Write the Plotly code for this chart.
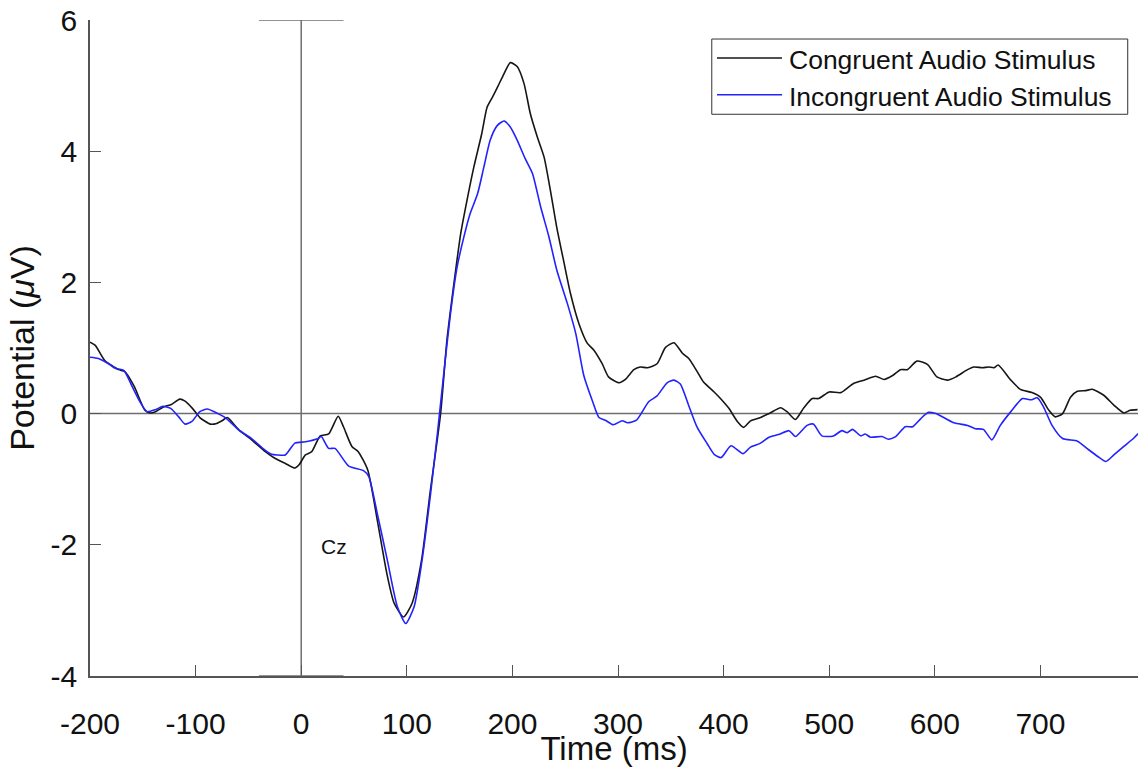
import plotly.graph_objects as go

# ---- data ----
t_congruent = [-200, -195, -186, -173, -167, -158, -148, -143, -138, -129, -123, -115, -110, -103, -96, -86, -80, -75, -70,
               -59, -47, -34, -25, -15, -6, -2, 4, 10, 18, 26, 35, 40, 48, 54, 63, 72, 81, 88, 97, 105, 114, 122, 132,
               138, 145, 151, 157, 163.5, 171, 176, 181, 186, 192, 198, 204.5, 211, 217, 223.5, 230, 236, 242, 249, 255,
               263, 271, 277, 285, 291, 301, 307, 315, 321, 328, 337, 345, 353, 361, 367, 375, 381, 391, 397, 405, 413,
               419, 425.5, 435, 444, 454, 460, 468, 476, 484, 490, 500, 511, 523, 533, 544, 552, 560, 567.5, 574, 583,
               593, 602, 612, 620, 631, 637, 645, 651, 656, 660, 672, 681, 692, 700, 708, 714, 721, 728.5, 735, 743,
               749, 760, 769.5, 779, 785, 792]
v_congruent = [1.09, 1.04, 0.81, 0.67, 0.64, 0.41, 0.05, 0.01, 0.03, 0.11, 0.14, 0.22, 0.19, 0.08, -0.06, -0.16, -0.15,
               -0.11, -0.06, -0.25, -0.40, -0.58, -0.68, -0.76, -0.83, -0.78, -0.63, -0.58, -0.34, -0.31, -0.04, -0.20,
               -0.50, -0.58, -0.86, -1.62, -2.43, -2.89, -3.10, -2.89, -2.23, -1.21, 0.0,
               1.12, 2.03, 2.74, 3.25, 3.76, 4.27, 4.67, 4.82, 4.98, 5.18, 5.35, 5.29, 5.03, 4.57, 4.22, 3.91, 3.40, 2.84,
               2.29, 1.83, 1.37, 1.07, 0.97, 0.76, 0.56, 0.47, 0.52, 0.67, 0.71, 0.70, 0.76, 1.01, 1.08, 0.92, 0.84,
               0.64, 0.48, 0.33, 0.23, 0.08, -0.12, -0.21, -0.11, -0.06, 0.01, 0.09, 0.03, -0.09, 0.09, 0.23, 0.23,
               0.33, 0.32, 0.46, 0.51, 0.57, 0.52, 0.58, 0.67, 0.67, 0.80, 0.75, 0.56, 0.51, 0.56, 0.67, 0.71, 0.70,
               0.71, 0.70, 0.74, 0.51, 0.37, 0.32, 0.25, 0.05, -0.05, 0.0, 0.25, 0.34, 0.35, 0.37, 0.28, 0.13, 0.01,
               0.05, 0.06]

t_incongruent = [-200, -192, -182.5, -176, -168, -160, -152, -146, -138, -131, -123.6, -116, -110, -103.5, -96, -89,
                 -80, -72, -59, -47, -34, -28, -23, -15, -6, 4, 16, 19, 26, 32, 45, 59, 64, 72, 81.5, 91, 99, 107,
                 114.5, 122.6, 129, 135, 141.4, 147.7, 154, 160, 167, 173, 179, 185.6, 192, 198, 204.5, 212, 219,
                 226.6, 234.5, 242, 252, 260, 267.6, 275.6, 282, 288, 295.5, 304, 309, 317.5, 329, 337, 346.5, 353,
                 359, 367, 375, 384.5, 391, 397.7, 407, 418.5, 425.5, 435, 443, 452, 462, 468, 479, 485, 493, 504,
                 512, 517, 522, 530, 534, 539, 550, 556, 563, 572, 579, 586.5, 594, 601, 605, 618, 631, 638.5, 646,
                 654, 662, 672, 683, 691, 697, 703, 711, 721, 735, 744, 754, 762, 769.5, 779, 788, 793]
v_incongruent = [0.86, 0.84, 0.76, 0.69, 0.66, 0.41, 0.16, 0.03, 0.06, 0.11, 0.08, -0.05, -0.16, -0.12, 0.03, 0.07,
                 0.01, -0.06, -0.25, -0.38, -0.56, -0.62, -0.63, -0.63, -0.45, -0.43, -0.38, -0.35, -0.53, -0.53,
                 -0.80, -0.87, -0.96, -1.52, -2.23, -2.94, -3.20, -2.94, -2.23, -1.21, -0.30, 0.61, 1.53, 2.24, 2.69,
                 3.05, 3.35, 3.76, 4.17, 4.39, 4.46, 4.37, 4.17, 3.89, 3.66, 3.16, 2.70, 2.19, 1.68, 1.22, 0.58, 0.20,
                 -0.06, -0.10, -0.17, -0.11, -0.14, -0.10, 0.18, 0.27, 0.47, 0.51, 0.45, 0.12, -0.21, -0.46, -0.62,
                 -0.67, -0.49, -0.61, -0.51, -0.45, -0.36, -0.32, -0.26, -0.35, -0.18, -0.16, -0.34, -0.34, -0.26,
                 -0.29, -0.24, -0.34, -0.31, -0.36, -0.35, -0.39, -0.35, -0.20, -0.20, -0.08, 0.02, 0.0, -0.03, -0.14,
                 -0.18, -0.23, -0.24, -0.40, -0.18, 0.03, 0.23, 0.21, 0.24, 0.10, -0.18, -0.38, -0.42, -0.53, -0.65,
                 -0.73, -0.63, -0.50, -0.38, -0.30]

series_names = ["Congruent Audio Stimulus", "Incongruent Audio Stimulus"]
series_colors = ["#161616", "#2222ff"]

x_ticks = [-200, -100, 0, 100, 200, 300, 400, 500, 600, 700]
x_tick_labels = ["-200", "-100", "0", "100", "200", "300", "400", "500", "600", "700"]
y_ticks = [-4, -2, 0, 2, 4, 6]
y_tick_labels = ["-4", "-2", "0", "2", "4", "6"]
x_range = [-200, 792.4]
y_range = [-4, 6]
stim_onset = 0
marker_half_width = 40
electrode_label = "Cz"
electrode_pos = (31, -2.02)

FONT = "Liberation Sans, Arial, Helvetica, sans-serif"
AXIS_GRAY = "#555555"
GUIDE_GRAY = "#6e6e6e"
TEXT = "#111111"

fig = go.Figure()
for t, v, name, col in [(t_congruent, v_congruent, series_names[0], series_colors[0]),
                        (t_incongruent, v_incongruent, series_names[1], series_colors[1])]:
    fig.add_trace(go.Scatter(x=t, y=v, mode="lines", name=name, showlegend=False,
                             line=dict(color=col, width=1.6, shape="spline", smoothing=0.6)))

# guide lines: baseline and stimulus-onset marker with caps
shapes = [
    dict(type="line", xref="x", yref="y", x0=x_range[0], x1=x_range[1], y0=0, y1=0,
         line=dict(color=GUIDE_GRAY, width=1.5), layer="below"),
    dict(type="line", xref="x", yref="y", x0=stim_onset, x1=stim_onset, y0=y_range[0], y1=y_range[1],
         line=dict(color=GUIDE_GRAY, width=1.5), layer="below"),
    dict(type="line", xref="x", yref="y", x0=stim_onset - marker_half_width, x1=stim_onset + marker_half_width,
         y0=y_range[1], y1=y_range[1], line=dict(color=GUIDE_GRAY, width=1.5)),
    dict(type="line", xref="x", yref="y", x0=stim_onset - marker_half_width, x1=stim_onset + marker_half_width,
         y0=y_range[0], y1=y_range[0], line=dict(color=GUIDE_GRAY, width=1.5)),
]

# custom legend (box, sample lines, labels) in plot-area paper coordinates
L_X0, L_X1, L_Y0, L_Y1 = 0.5933, 0.9902, 0.8563, 0.9710
line_x0, line_x1, text_x = 0.5983, 0.6603, 0.6651
row_y = [0.9390, 0.8830]
shapes.append(dict(type="rect", xref="paper", yref="paper", x0=L_X0, x1=L_X1, y0=L_Y0, y1=L_Y1,
                   line=dict(color="#333333", width=1), fillcolor="white", layer="above"))
annotations = []
for i in range(2):
    shapes.append(dict(type="line", xref="paper", yref="paper", x0=line_x0, x1=line_x1,
                       y0=row_y[i] + 0.003, y1=row_y[i] + 0.003, line=dict(color=series_colors[i], width=1.6)))
    annotations.append(dict(xref="paper", yref="paper", x=text_x, y=row_y[i], text=series_names[i],
                            showarrow=False, xanchor="left", yanchor="middle",
                            font=dict(family=FONT, size=26.5, color=TEXT)))

annotations.append(dict(xref="x", yref="y", x=electrode_pos[0], y=electrode_pos[1], text=electrode_label,
                        showarrow=False, xanchor="center", yanchor="middle",
                        font=dict(family=FONT, size=21, color=TEXT)))

fig.update_layout(
    width=1138, height=767,
    margin=dict(l=90, r=0, t=20, b=91),
    paper_bgcolor="white", plot_bgcolor="white",
    font=dict(family=FONT, color=TEXT),
    shapes=shapes, annotations=annotations,
    showlegend=False,
    xaxis=dict(range=x_range, tickvals=x_ticks, ticktext=x_tick_labels, ticks="inside", ticklen=11,
               tickwidth=1.2, tickcolor=AXIS_GRAY, showline=True, linecolor=AXIS_GRAY, linewidth=1.5,
               showgrid=False, zeroline=False, mirror=False,
               tickfont=dict(family=FONT, size=30, color=TEXT), ticklabelstandoff=20,
               title=dict(text="Time (ms)", font=dict(family=FONT, size=33, color=TEXT), standoff=0)),
    yaxis=dict(range=y_range, tickvals=y_ticks, ticktext=y_tick_labels, ticks="inside", ticklen=11,
               tickwidth=1.2, tickcolor=AXIS_GRAY, showline=True, linecolor=AXIS_GRAY, linewidth=1.5,
               showgrid=False, zeroline=False, mirror=False,
               tickfont=dict(family=FONT, size=30, color=TEXT), ticklabelstandoff=5,
               title=dict(text="Potential (<i>μ</i>V)", font=dict(family=FONT, size=34, color=TEXT),
                          standoff=6)),
)

fig.write_html("out.html", config={"displayModeBar": False},
               post_script="document.body.style.margin='0';document.body.style.overflow='hidden';")
